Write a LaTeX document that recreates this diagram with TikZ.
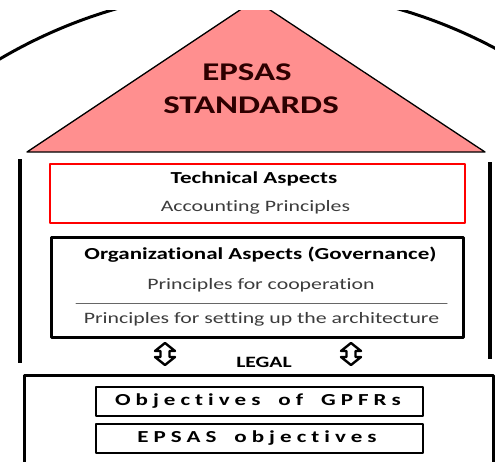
\documentclass[tikz,border=0pt]{standalone}
\usepackage{fontspec}
\setmainfont[FakeStretch=1.37, Ligatures=NoCommon]{Carlito}
\usetikzlibrary{arrows}

\definecolor{roofpink}{RGB}{255,143,143}
\definecolor{titledark}{RGB}{45,0,0}
\definecolor{bodygray}{RGB}{60,60,60}

\tikzset{
  titletext/.style={font=\fontsize{25.5}{30}\selectfont\bfseries, text=titledark},
  headtext/.style={font=\fontsize{16.8}{20}\selectfont\bfseries},
  plaintext/.style={font=\fontsize{15.9}{19}\selectfont, text=bodygray},
  spacedtext/.style={font=\fontsize{16.8}{20}\selectfont\bfseries\addfontfeature{LetterSpace=30}},
  techbox/.style={draw=red, line width=2.5pt, inner sep=0pt},
  orgbox/.style={draw, line width=3pt, inner sep=0pt},
  objbox/.style={draw, line width=2pt, inner sep=0pt, minimum width=327, minimum height=29}
}

\begin{document}
\begin{tikzpicture}[line cap=round,line join=round,x=1pt,y=-1pt]
\useasboundingbox (0,0) rectangle (495,461);
\clip (0,10) rectangle (495,461);
% roof
\draw[line width=3pt] (257,496) circle (507);
\filldraw[fill=roofpink, draw=black, line width=1.3pt] (27,152) -- (255,0) -- (485,152) -- cycle;
\node[titletext] (epsas) at (247,72) {EPSAS};
\node[titletext] (standards) at (251,105) {STANDARDS};

% walls
\draw[line width=3.5pt, line cap=butt] (20,159) -- (20,363);
\draw[line width=3.5pt, line cap=butt] (490,162) -- (490,359);

% technical aspects
\node[techbox, minimum width=415, minimum height=59] (tech) at (257.5,193.5) {};
\node[headtext] (techhead) at (254,179) {Technical Aspects};
\node[plaintext] (accounting) at (255.5,207) {Accounting Principles};

% organizational aspects
\node[orgbox, minimum width=412, minimum height=100] (org) at (257,287) {};
\node[headtext] (orghead) at (260.5,255) {Organizational Aspects (Governance)};
\node[plaintext] (cooperation) at (261,285) {Principles for cooperation};
\draw[line width=1pt, black!60] (76,303) -- (447,303);
\node[plaintext] (architecture) at (261.5,319) {Principles for setting up the architecture};

% legal
\foreach \ax in {165,351}
  \draw[line width=2.4pt, fill=white, shift={(\ax,354)}] (0,-11) -- (10,-3) -- (4.5,-3) -- (4.5,3) -- (10,3) -- (0,11) -- (-10,3) -- (-4.5,3) -- (-4.5,-3) -- (-10,-3) -- cycle;
\node[headtext, font=\fontsize{15.8}{19}\selectfont\bfseries] (legal) at (264,362) {LEGAL};

% objectives
\draw[line width=3pt, line cap=butt] (24,470) -- (24,375) -- (493,375) -- (493,470);
\node[objbox] (gpfrbox) at (259.5,401.5) {};
\node[spacedtext] (gpfr) at (258,401) {Objectives\hspace{18pt}of\hspace{18pt}GPFRs};
\node[objbox] (epsasbox) at (259.5,438.5) {};
\node[spacedtext] (epsasobj) at (257,438) {EPSAS\hspace{18pt}objectives};

\end{tikzpicture}
\end{document}
